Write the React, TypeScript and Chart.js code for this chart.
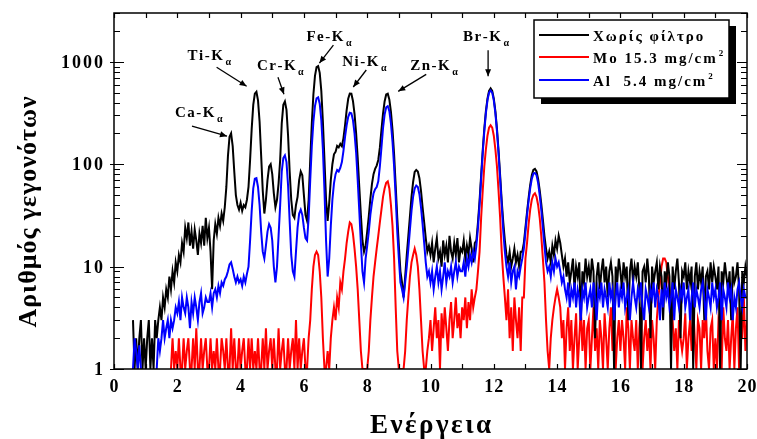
import React, { useEffect, useRef } from "react";
import { Chart, registerables } from "chart.js";

Chart.register(...registerables);

// ---- energy channels (keV) ----
const ENERGY_START = 0.6;
const ENERGY_STEP = 0.05;
const X_MIN = 0;
const X_MAX = 20;
const Y_MIN = 1;
const Y_MAX = 3000;

const xTickValues = [0, 2, 4, 6, 8, 10, 12, 14, 16, 18, 20];
const yTickValues = [1, 10, 100, 1000];

const seriesLabels = ["Χωρίς φίλτρο", "Mo 15.3 mg/cm", "Al  5.4 mg/cm"];
const seriesSup = ["", "2", "2"];
const seriesColors = ["#000000", "#ff0000", "#0000ff"];

const xTitle = "Ενέργεια";
const yTitle = "Αριθμός γεγονότων";

// counts, no filter (black)
const blackCounts = [
  3, 1, 2, 1, 2, 3, 1, 2,
  1, 2, 3, 1, 2, 1, 3, 2, 3, 4, 3, 5, 4, 6, 5, 8, 6, 9, 7, 11,
  9, 13, 11, 17, 14, 24, 19, 27, 16, 22, 15, 23, 18, 13, 21, 17, 25, 16, 30, 19,
  24, 14, 6, 18, 26, 21, 30, 25, 33, 28, 38, 60, 120, 185, 200, 150, 85, 50, 40, 36,
  42, 35, 40, 38, 45, 60, 110, 220, 380, 490, 510, 420, 260, 120, 55, 33, 45, 70, 95, 100,
  80, 52, 38, 45, 65, 110, 250, 380, 410, 340, 190, 85, 45, 32, 30, 40, 48, 70, 85, 78,
  50, 32, 28, 45, 110, 250, 480, 730, 890, 910, 780, 520, 260, 110, 45, 28, 42, 70, 100, 125,
  132, 151, 146, 158, 150, 180, 240, 335, 436, 490, 488, 415, 310, 200, 115, 60, 32, 18, 14, 16,
  22, 31, 46, 64, 80, 90, 97, 110, 145, 215, 312, 410, 480, 488, 428, 325, 215, 125, 62, 30,
  16, 9, 7, 5, 8, 13, 20, 31, 48, 67, 84, 88, 85, 73, 55, 38, 27, 19, 14, 16,
  13, 17, 11, 15, 19, 12, 14, 10, 18, 13, 16, 11, 20, 14, 12, 17, 13, 19, 11, 15,
  14, 18, 12, 16, 13, 19, 15, 11, 17, 18, 27, 44, 78, 136, 222, 330, 438, 520, 550, 520,
  438, 330, 222, 136, 78, 44, 27, 18, 13, 11, 14, 10, 12, 15, 11, 13, 10, 14, 14, 17,
  24, 34, 47, 63, 78, 88, 90, 85, 72, 56, 41, 29, 20, 15, 12, 14, 11, 16, 13, 18,
  15, 20, 17, 13, 10, 12, 8, 11, 7, 9, 12, 6, 10, 8, 11, 3, 9, 7, 12, 8,
  10, 7, 12, 9, 2, 8, 11, 6, 9, 12, 7, 10, 5, 9, 11, 8, 1, 10, 7, 12,
  9, 6, 11, 8, 10, 3, 9, 12, 7, 10, 8, 11, 6, 1, 9, 10, 7, 12, 8, 2,
  10, 7, 9, 11, 6, 10, 8, 3, 9, 7, 11, 8, 1, 10, 6, 9, 12, 7, 2, 9,
  8, 11, 6, 9, 7, 10, 1, 8, 11, 6, 9, 7, 10, 3, 8, 9, 6, 11, 7, 10,
  8, 6, 10, 1, 9, 7, 11, 8, 6, 9, 3, 10, 7, 8, 11, 6, 1, 9, 7, 10,
  8,
];

// counts, Mo filter 15.3 mg/cm2 (red)
const moCounts = [
  null, null, null, null, null, null, null, null,
  null, null, null, null, null, null, null, null, null, null, null, null, null, null, null, null, 1, 2, 1, 1.5,
  1, 2, 1, 1, 2, 1, 1.5, 2, 1, 1, 2, 1, 2.5, 1, 1, 2, 1, 1.5, 2, 1,
  1, 2, 1, 1.5, 1, 2, 1, 1, 2, 1.5, 1, 2, 1, 1, 2.5, 1, 2, 1, 1, 2,
  1, 1.5, 2, 1, 1, 2, 1, 2, 1, 1.5, 1, 2, 1, 1, 2, 1, 2.5, 1, 1.5, 2,
  1, 2, 1, 1, 2.5, 1, 1.5, 2, 1, 1, 2, 1, 1.5, 2, 1, 3, 1, 2, 1, 1.5,
  2, 1, 1, 2, 3, 6, 10, 13, 14, 13, 9, 5, 2, 1, 1, 1.5, 1, 2, 3, 4,
  3, 5, 4, 7, 6, 9, 12, 17, 22, 27, 26, 21, 15, 10, 6, 3, 1.5, 1, 1, 1,
  1, 1.5, 3, 5, 8, 11, 15, 20, 27, 36, 48, 58, 66, 68, 58, 40, 25, 12, 4, 1.5,
  1, 1, 1, 1, 1.5, 3, 5, 8, 11, 13, 15, 13, 10, 6, 3, 1.5, 1, 1, 1.5, 2,
  3, 1.5, 2.5, 4, 2, 3, 1, 3.5, 2, 4, 2.5, 1.5, 3, 4.5, 2, 3, 5, 2.5, 3.5, 2,
  4, 3, 5, 2.5, 4.5, 3, 6, 4, 5, 6, 9, 14, 30, 55, 95, 140, 190, 228, 240, 228,
  190, 140, 95, 55, 30, 14, 8, 5, 3, 6, 2, 4, 1.5, 5, 3, 2, 4, 1.5, 5, 5,
  12, 17, 26, 36, 45, 50, 52, 48, 40, 30, 20, 12, 7, 3, 1.5, 1, 2, 3, 4, 5,
  6, 5, 4, 2, 3, 1, 2.5, 4, 1.5, 3, 1, 2, 3.5, 1, 2, 4, 1.5, 3, 1, 2.5,
  3, 1, 2, 4, 1.5, 2.5, 1, 3, 2, 1, 3.5, 2, 1, 2.5, 4, 1.5, 3, 1, 2, 3,
  1.5, 3, 2, 1, 4, 2.5, 1, 3, 2, 1.5, 3, 1, 2.5, 4, 1, 2, 3, 1.5, 2.5, 1,
  3, 2, 1, 3, 5, 7, 10, 12, 12, 11, 8, 6, 4, 3, 1.5, 2.5, 1, 3, 2, 1.5,
  2, 3.5, 1, 2, 3, 1.5, 4, 2, 1, 3, 2.5, 1, 3, 2, 4, 1.5, 1, 2.5, 3, 1,
  2, 1, 3, 2.5, 1, 4, 2, 1.5, 3, 1, 2, 3.5, 1, 2.5, 4, 1, 3, 2, 5, 1.5,
  3,
];

// counts, Al filter 5.4 mg/cm2 (blue)
const alCounts = [
  1, 2, 1.5, 1, 1.7, 1, null, null,
  null, null, null, null, null, null, null, 1, 2, 1.5, 2, 3, 2, 2.5, 3, 2, 3, 2.5, 3, 4,
  3.5, 4.5, 3, 5, 4, 3.5, 5, 4, 2.5, 4.5, 3.5, 5, 4, 3, 4.5, 5.5, 3.5, 4, 5, 4.5,
  4.5, 5.5, 4, 5.5, 6, 5, 6.5, 5.5, 7, 6.5, 7.5, 8, 9, 10.5, 11, 9.5, 8, 7, 8, 7,
  7.5, 6.5, 8, 7, 8.5, 10, 18, 35, 58, 72, 73, 60, 40, 22, 14, 12, 16, 22, 26, 24,
  18, 10, 7, 10, 20, 40, 85, 115, 122, 105, 62, 28, 13, 9, 8, 14, 24, 33, 36, 32,
  24, 19, 18, 30, 70, 150, 260, 370, 440, 450, 390, 270, 140, 55, 18, 8, 12, 25, 45, 65,
  80, 88, 85, 92, 105, 135, 185, 240, 290, 318, 315, 270, 200, 130, 70, 35, 17, 9, 7, 12,
  16, 22, 32, 42, 52, 57, 60, 68, 95, 145, 225, 305, 360, 370, 330, 250, 165, 95, 48, 22,
  12, 7, 6, 5, 7, 10, 15, 23, 35, 48, 58, 62, 60, 51, 38, 26, 17, 11, 8, 9,
  7, 9, 6, 8, 10, 7, 9, 6, 8, 11, 7, 9, 8, 10, 7, 9, 11, 8, 10, 9,
  9, 11, 8, 12, 10, 13, 11, 14, 12, 16, 24, 40, 72, 128, 210, 315, 420, 500, 525, 500,
  420, 315, 210, 128, 72, 40, 22, 14, 10, 8, 11, 7, 9, 10, 6, 9, 8, 10, 12, 15,
  22, 32, 44, 58, 72, 81, 82, 78, 66, 50, 36, 24, 16, 11, 9, 10, 8, 11, 9, 12,
  10, 11, 9, 7, 8, 6, 5, 7, 4, 6, 5, 7, 4, 6, 5, 3, 6, 5, 7, 4,
  5, 6, 4, 7, 5, 3, 6, 5, 7, 4, 6, 5, 4, 7, 5, 6, 3, 5, 7, 4,
  6, 5, 7, 4, 5, 6, 3, 5, 7, 5, 4, 6, 5, 7, 4, 3, 6, 5, 4, 6,
  5, 7, 4, 6, 5, 3, 6, 4, 7, 5, 6, 4, 5, 7, 3, 6, 5, 4, 6, 5,
  7, 4, 5, 6, 3, 5, 7, 4, 6, 5, 4, 6, 7, 5, 3, 6, 5, 4, 7, 5,
  6, 4, 5, 7, 3, 6, 5, 4, 7, 5, 6, 3, 5, 4, 6, 7, 5, 4, 6, 5,
  5,
];

// peak annotations: element, arrow tip (energy keV, counts)
const peakNames = ["Ca", "Ti", "Cr", "Fe", "Ni", "Zn", "Br"];
const peakTipEnergy = [3.57, 4.19, 5.37, 6.49, 7.56, 8.98, 11.82];
const peakTipCounts = [188, 577, 482, 973, 568, 515, 722];
// pixel offsets from the tip: arrow tail and text (left, baseline)
const peakTail = [[-35, -10], [-30, -19], [-6, -17], [14, -18], [13, -17], [28, -17], [0, -26]];
const peakText = [[-52, -19], [-59, -26], [-27, -24], [-13, -22], [-11, -21], [12, -21], [-25, -35]];

const SERIF = "'Liberation Serif', 'Times New Roman', serif";

function spacedWidth(ctx: CanvasRenderingContext2D, text: string, spacing: number) {
  const chars = Array.from(text);
  let w = 0;
  for (const ch of chars) w += ctx.measureText(ch).width;
  return w + spacing * Math.max(0, chars.length - 1);
}

function drawSpaced(ctx: CanvasRenderingContext2D, text: string, x: number, y: number, spacing: number) {
  let cx = x;
  for (const ch of Array.from(text)) {
    ctx.fillText(ch, cx, y);
    cx += ctx.measureText(ch).width + spacing;
  }
  return cx - spacing;
}

const decorPlugin = {
  id: "decor",
  afterDatasetsDraw(chart: any) {
    const { ctx, chartArea: a, scales } = chart;
    const xs = scales.x;
    const ys = scales.y;
    ctx.save();
    ctx.textAlign = "left";
    ctx.textBaseline = "alphabetic";
    ctx.fillStyle = "#000";
    ctx.strokeStyle = "#000";

    // frame
    ctx.lineWidth = 1.5;
    ctx.strokeRect(a.left, a.top, a.right - a.left, a.bottom - a.top);

    // ticks
    ctx.lineWidth = 1.2;
    ctx.beginPath();
    for (let e = X_MIN; e <= X_MAX; e += 1) {
      const px = Math.round(xs.getPixelForValue(e)) + 0.5;
      ctx.moveTo(px, a.bottom);
      ctx.lineTo(px, a.bottom - 5);
      ctx.moveTo(px, a.top);
      ctx.lineTo(px, a.top + 5);
    }
    for (let d = 1; d <= 1000; d *= 10) {
      for (let m = 1; m <= 9; m++) {
        const v = m * d;
        if (v > Y_MAX) break;
        const py = Math.round(ys.getPixelForValue(v)) + 0.5;
        const major = m === 1;
        ctx.moveTo(a.left - (major ? 4 : 0), py);
        ctx.lineTo(a.left + (major ? 10 : 6), py);
        ctx.moveTo(a.right, py);
        ctx.lineTo(a.right - (major ? 10 : 6), py);
      }
    }
    ctx.stroke();

    // tick labels
    ctx.font = `bold 18px ${SERIF}`;
    for (const v of xTickValues) {
      const t = String(v);
      const w = spacedWidth(ctx, t, 1);
      drawSpaced(ctx, t, xs.getPixelForValue(v) - w / 2, a.bottom + 23, 1);
    }
    for (const v of yTickValues) {
      const t = String(v);
      const w = spacedWidth(ctx, t, 2);
      drawSpaced(ctx, t, a.left - 11 - w, ys.getPixelForValue(v) + 6, 2);
    }

    // axis titles
    ctx.font = `bold 27px ${SERIF}`;
    {
      const w = spacedWidth(ctx, xTitle, 2.5);
      drawSpaced(ctx, xTitle, (a.left + a.right) / 2 - w / 2, 433, 2.5);
    }
    ctx.save();
    ctx.translate(29, (a.top + a.bottom) / 2 + 21);
    ctx.rotate(-Math.PI / 2);
    ctx.textBaseline = "middle";
    ctx.font = `bold 26px ${SERIF}`;
    {
      const w = spacedWidth(ctx, yTitle, 1);
      drawSpaced(ctx, yTitle, -w / 2, 0, 1);
    }
    ctx.restore();

    // peak annotations
    for (let i = 0; i < peakNames.length; i++) {
      const tx = xs.getPixelForValue(peakTipEnergy[i]);
      const ty = ys.getPixelForValue(peakTipCounts[i]);
      const sx = tx + peakTail[i][0];
      const sy = ty + peakTail[i][1];
      ctx.lineWidth = 1.3;
      ctx.beginPath();
      ctx.moveTo(sx, sy);
      ctx.lineTo(tx, ty);
      ctx.stroke();
      const ang = Math.atan2(ty - sy, tx - sx);
      const L = 7, W = 3;
      ctx.beginPath();
      ctx.moveTo(tx, ty);
      ctx.lineTo(tx - L * Math.cos(ang) + W * Math.sin(ang), ty - L * Math.sin(ang) - W * Math.cos(ang));
      ctx.lineTo(tx - L * Math.cos(ang) - W * Math.sin(ang), ty - L * Math.sin(ang) + W * Math.cos(ang));
      ctx.closePath();
      ctx.fill();
      ctx.font = `bold 15px ${SERIF}`;
      const lx = tx + peakText[i][0];
      const ly = ty + peakText[i][1];
      const end = drawSpaced(ctx, peakNames[i] + "-K", lx, ly, 1.5);
      ctx.font = `bold 10px ${SERIF}`;
      ctx.fillText("α", end + 2.5, ly + 5);
    }

    // legend
    const bx = 534, by = 20, bw = 195, bh = 78;
    ctx.fillStyle = "#000";
    ctx.fillRect(bx + 7, by + 6, bw, bh);
    ctx.fillStyle = "#fff";
    ctx.fillRect(bx, by, bw, bh);
    ctx.lineWidth = 1.5;
    ctx.strokeStyle = "#000";
    ctx.strokeRect(bx, by, bw, bh);
    const rowY = [35, 57, 80];
    for (let i = 0; i < seriesLabels.length; i++) {
      ctx.strokeStyle = seriesColors[i];
      ctx.lineWidth = 1.8;
      ctx.beginPath();
      ctx.moveTo(bx + 5, rowY[i]);
      ctx.lineTo(bx + 55, rowY[i]);
      ctx.stroke();
      ctx.fillStyle = "#000";
      ctx.font = `bold 15px ${SERIF}`;
      const end = drawSpaced(ctx, seriesLabels[i], bx + 59, rowY[i] + 6, 2);
      if (seriesSup[i]) {
        ctx.font = `bold 9px ${SERIF}`;
        ctx.fillText(seriesSup[i], end + 3, rowY[i] - 1);
      }
    }
    ctx.restore();
  },
};

export default function App() {
  const ref = useRef<HTMLCanvasElement>(null);
  useEffect(() => {
    document.body.style.margin = "0";
    const toPoints = (arr: (number | null)[]) =>
      arr.map((c, i) => ({ x: Math.round((ENERGY_START + i * ENERGY_STEP) * 100) / 100, y: c }));
    const chart = new Chart(ref.current as HTMLCanvasElement, {
      type: "line",
      data: {
        datasets: [
          { label: seriesLabels[0], data: toPoints(blackCounts) as any, borderColor: seriesColors[0], order: 1 },
          { label: seriesLabels[1], data: toPoints(moCounts) as any, borderColor: seriesColors[1], order: 2 },
          { label: seriesLabels[2], data: toPoints(alCounts) as any, borderColor: seriesColors[2], order: 0 },
        ],
      },
      options: {
        responsive: false,
        animation: false,
        devicePixelRatio: 1,
        spanGaps: false,
        layout: { padding: { left: 114, right: 10, top: 13, bottom: 70 } },
        elements: {
          point: { radius: 0 },
          line: { borderWidth: 2, tension: 0, borderJoinStyle: "miter" as any },
        },
        scales: {
          x: { type: "linear", min: X_MIN, max: X_MAX, display: false },
          y: { type: "logarithmic", min: Y_MIN, max: Y_MAX, display: false },
        },
        plugins: { legend: { display: false }, tooltip: { enabled: false } },
      },
      plugins: [decorPlugin],
    });
    return () => chart.destroy();
  }, []);
  return (
    <div style={{ width: 757, height: 439 }}>
      <canvas ref={ref} width={757} height={439} style={{ display: "block" }} />
    </div>
  );
}
